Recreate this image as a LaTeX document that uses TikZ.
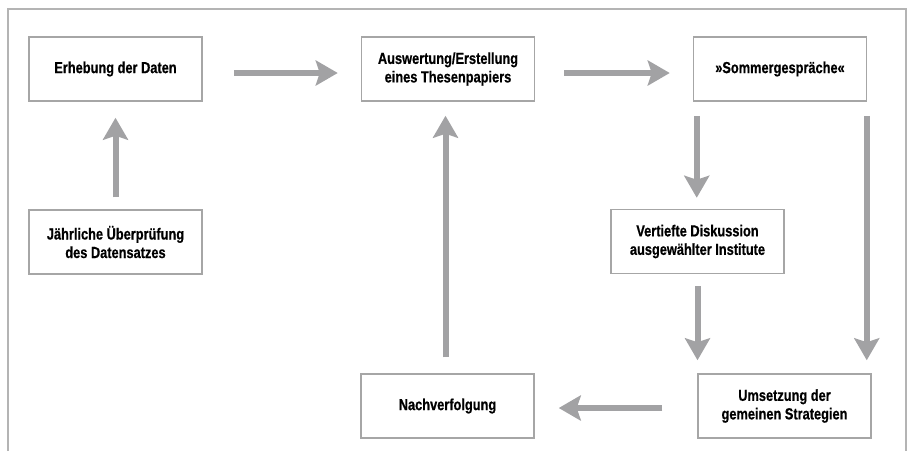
\documentclass[tikz,border=0pt]{standalone}
\usepackage{fontspec}
\setmainfont{Liberation Sans}[FakeStretch=0.8, BoldFeatures={FakeBold=0.6}]
\usetikzlibrary{arrows.meta}
\definecolor{boxgray}{HTML}{A6A6A6}
\definecolor{flowgray}{HTML}{A2A2A4}
\definecolor{framegray}{HTML}{B4B4B4}
\tikzset{
  stepbox/.style={draw=boxgray, line width=1.5pt, minimum width=173pt, minimum height=64pt,
    align=center, font=\fontsize{16}{18.5}\selectfont\bfseries},
  flow/.style={draw=flowgray, line width=6pt, -{Stealth[width=25pt,length=22pt,inset=4pt]}}
}
\begin{document}
\begin{tikzpicture}[x=1pt,y=-1pt]
    \useasboundingbox (0,0) rectangle (913,451);
    \draw [framegray, line width=1.5pt] (8,451) -- (8,9) -- (906,9) -- (906,451);
    % boxes
    \node [stepbox] (erhebung) at (115.5,69) {Erhebung der Daten};
    \node [stepbox] (auswertung) at (448,69) {Auswertung/Erstellung\\eines Thesenpapiers};
    \node [stepbox] (sommer) at (780,69) {»Sommergespräche«};
    \node [stepbox] (jaehrlich) at (115.5,242) {Jährliche Überprüfung\\des Datensatzes};
    \node [stepbox] (vertieft) at (697.5,241.5) {Vertiefte Diskussion\\ausgewählter Institute};
    \node [stepbox] (nachverf) at (447.5,406) {Nachverfolgung};
    \node [stepbox] (umsetz) at (784.5,406) {Umsetzung der\\gemeinen Strategien};
    % arrows
    \draw [flow, shorten <=31pt, shorten >=23pt] ([yshift=-4pt]erhebung.east) -- ([yshift=-4pt]auswertung.west);
    \draw [flow, shorten <=29pt, shorten >=23pt] ([yshift=-4pt]auswertung.east) -- ([yshift=-4pt]sommer.west);
    \draw [flow, shorten <=12pt, shorten >=16pt] (jaehrlich.north) -- (erhebung.south);
    \draw [flow, shorten <=14pt, shorten >=11pt] ([xshift=4pt]sommer.south west) -- ([xshift=4pt]sommer.south west |- vertieft.north);
    \draw [flow, shorten <=14pt, shorten >=13pt] ([xshift=-0.5pt]sommer.south east) -- ([xshift=-0.5pt]sommer.south east |- umsetz.north);
    \draw [flow, shorten <=12pt, shorten >=13pt] (vertieft.south) -- (vertieft.south |- umsetz.north);
    \draw [flow, shorten <=35pt, shorten >=24pt] ([yshift=-2pt]umsetz.west) -- ([yshift=-2pt]nachverf.east);
    \draw [flow, shorten <=16pt, shorten >=14pt] ([xshift=-2pt]nachverf.north) -- ([xshift=-2pt]nachverf.north |- auswertung.south);
\end{tikzpicture}
\end{document}
